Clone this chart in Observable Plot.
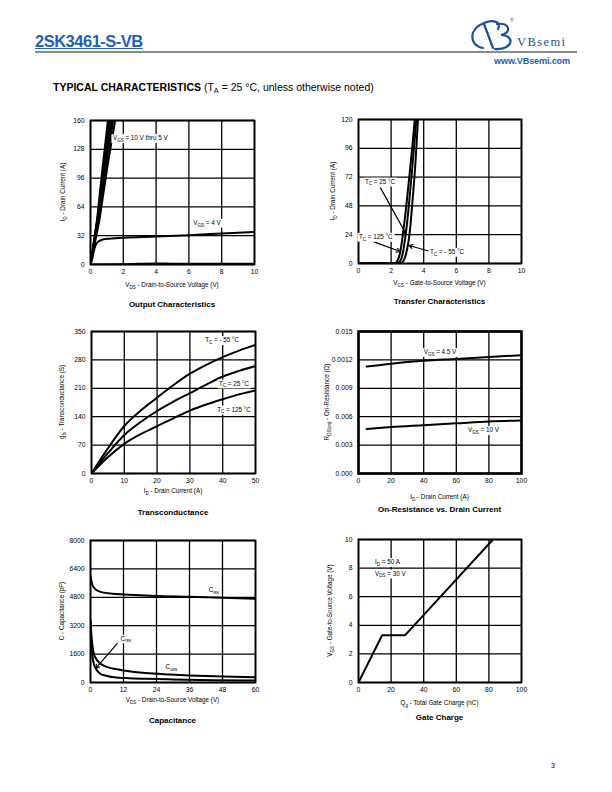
<!DOCTYPE html>
<html><head><meta charset="utf-8">
<script src="https://cdn.jsdelivr.net/npm/d3@7"></script>
<script src="https://cdn.jsdelivr.net/npm/@observablehq/plot@0.6"></script>
<style>
body{margin:0;background:#fff;}
#page{position:relative;width:612px;height:792px;overflow:hidden;font-family:"Liberation Sans",Arial,Helvetica,sans-serif;color:#000;}
.abs{position:absolute;white-space:nowrap;}
sub{font-size:0.7em;vertical-align:-0.25em;line-height:0;}
</style></head><body><div id="page">
<div class="abs" style="left:35px;top:32px;font-size:16.5px;font-weight:bold;color:#1f5fbf;letter-spacing:-0.5px;text-decoration:underline;text-decoration-thickness:1px;">2SK3461-S-VB</div>
<div class="abs" style="left:35px;top:51px;width:542px;height:2px;background:#8a8a8a;"></div>
<div class="abs" style="left:494px;top:56px;font-size:9.2px;font-weight:bold;color:#1f5fbf;letter-spacing:-0.2px;">www.VBsemi.com</div>
<svg class="abs" style="left:467px;top:15px;" width="112" height="37" viewBox="0 0 112 37">
  <g fill="none" stroke="#1c4f9c" stroke-width="2.2" stroke-linecap="round">
    <path d="M16,33 C2,31 1,14 17,8 C26,4 35,7 31,14"/>
    <path d="M17,9 L26,33"/>
    <path d="M30,9 C43,7 45,18 34,20 C48,20 47,35 28,34"/>
  </g>
  <text x="43" y="7" font-size="5" fill="#1c4f9c" font-family="Liberation Sans">®</text>
  <text x="50" y="31" font-size="12.5" fill="#1c4f9c" font-family="Liberation Serif" letter-spacing="1.4">VBsemi</text>
</svg>
<div class="abs" style="left:53px;top:81px;font-size:10.5px;"><b>TYPICAL CHARACTERISTICS</b> (T<sub>A</sub> = 25 °C, unless otherwise noted)</div>
<div class="abs" style="left:551px;top:762px;font-size:7px;">3</div>
</div>
<script>
// ---------- DATA ----------
// Output Characteristics (VDS, ID)
const outTicksX = [0, 2, 4, 6, 8, 10];
const outLabelsX = ["0", "2", "4", "6", "8", "10"];
const outTicksY = [0, 32, 64, 96, 128, 160];
const outLabelsY = ["0", "32", "64", "96", "128", "160"];
const outVgs10 = [[0, 0], [0.4, 50], [0.75, 110], [1.06, 160]];
const outVgs9 = [[0, 0], [0.42, 50], [0.8, 110], [1.13, 160]];
const outVgs8 = [[0, 0], [0.44, 50], [0.84, 110], [1.2, 160]];
const outVgs7 = [[0, 0], [0.47, 50], [0.89, 110], [1.28, 160]];
const outVgs6 = [[0, 0], [0.5, 50], [0.95, 110], [1.38, 160]];
const outVgs5 = [[0, 0], [0.55, 50], [1.04, 110], [1.5, 160]];
const outVgs4 = [[0, 0], [0.1, 6], [0.2, 15], [0.3, 21], [0.45, 25], [0.7, 27.5], [1, 28.5], [2, 29.8], [4, 31], [6, 32.5], [8, 34.5], [10, 36]];
const outVgs3 = [[0, 0], [2, 0.3], [4, 1.2], [5, 0.9], [10, 0.8]];

// Transfer Characteristics (VGS, ID)
const trTicksX = [0, 2, 4, 6, 8, 10];
const trLabelsX = ["0", "2", "4", "6", "8", "10"];
const trTicksY = [0, 24, 48, 72, 96, 120];
const trLabelsY = ["0", "24", "48", "72", "96", "120"];
const trTc125 = [[0, 0], [2.0, 0], [2.2, 0.3], [2.35, 1.5], [2.45, 4], [2.55, 9], [2.65, 17], [2.75, 27], [2.9, 44], [3.1, 70], [3.3, 97], [3.45, 120]];
const trTc25 = [[0, 0], [2.2, 0], [2.4, 0.3], [2.55, 2], [2.65, 5], [2.75, 11], [2.85, 20], [2.95, 30], [3.1, 50], [3.3, 80], [3.55, 120]];
const trTcM55 = [[0, 0], [2.4, 0], [2.6, 0.3], [2.75, 2], [2.85, 5], [2.95, 10], [3.05, 17], [3.15, 27], [3.3, 50], [3.5, 85], [3.65, 120]];

// Transconductance (ID, gfs)
const gfTicksX = [0, 10, 20, 30, 40, 50];
const gfLabelsX = ["0", "10", "20", "30", "40", "50"];
const gfTicksY = [0, 70, 140, 210, 280, 350];
const gfLabelsY = ["0", "70", "140", "210", "280", "350"];
const gfTcM55 = [[0, 0], [5, 62], [10, 117], [15, 155], [20, 187], [25, 218], [30, 246], [35, 268], [40, 287], [45, 303], [50, 317]];
const gfTc25 = [[0, 0], [5, 50], [10, 95], [15, 127], [20, 154], [25, 177], [30, 198], [35, 219], [40, 239], [45, 253], [50, 265]];
const gfTc125 = [[0, 0], [5, 40], [10, 73], [15, 97], [20, 117], [25, 136], [30, 155], [35, 170], [40, 183], [45, 195], [50, 205]];

// On-Resistance (ID, RDS(on))
const rTicksX = [0, 20, 40, 60, 80, 100];
const rLabelsX = ["0", "20", "40", "60", "80", "100"];
const rTicksY = [0, 0.003, 0.006, 0.009, 0.012, 0.015];
const rLabelsY = ["0.000", "0.003", "0.006", "0.009", "0.0012", "0.015"];
const rVgs45 = [[5, 0.0113], [20, 0.0116], [40, 0.0119], [60, 0.0121], [80, 0.0123], [100, 0.0125]];
const rVgs10 = [[5, 0.0047], [20, 0.0049], [40, 0.0051], [60, 0.0053], [80, 0.0055], [100, 0.0056]];

// Capacitance (VDS, C)
const cTicksX = [0, 12, 24, 36, 48, 60];
const cLabelsX = ["0", "12", "24", "36", "48", "60"];
const cTicksY = [0, 1600, 3200, 4800, 6400, 8000];
const cLabelsY = ["0", "1600", "3200", "4800", "6400", "8000"];
const cCiss = [[0.05, 6000], [0.5, 5600], [1, 5400], [2, 5220], [4, 5090], [8, 5000], [12, 4960], [18, 4910], [24, 4870], [36, 4830], [48, 4780], [60, 4720]];
const cCoss = [[0.05, 3500], [0.3, 2700], [0.7, 2100], [1.2, 1620], [2, 1350], [3, 1140], [5, 930], [8.5, 770], [12, 680], [20, 530], [29, 450], [36, 400], [48, 340], [60, 300]];
const cCrss = [[0.05, 3300], [0.36, 2180], [0.7, 1500], [1.2, 1050], [2, 760], [3.6, 490], [6, 370], [8.5, 300], [14, 240], [20, 210], [30, 170], [45, 130], [60, 110]];

// Gate Charge (Qg, VGS)
const qTicksX = [0, 20, 40, 60, 80, 100];
const qLabelsX = ["0", "20", "40", "60", "80", "100"];
const qTicksY = [0, 2, 4, 6, 8, 10];
const qLabelsY = ["0", "2", "4", "6", "8", "10"];
const qVgs = [[0, 0], [14.5, 3.3], [28.5, 3.3], [82.5, 10]];

// ---------- DRAWING ----------
const FONT = '"Liberation Sans", Arial, Helvetica, sans-serif';
const page = document.getElementById("page");

function rich(svg, x, y, markup, o = {}) {
  const size = o.size || 6;
  const g = d3.select(svg).append("g");
  const t = g.append("text")
    .attr("x", x).attr("y", y + size * 0.35)
    .attr("font-family", FONT).attr("font-size", size)
    .attr("font-weight", o.weight || "normal")
    .attr("text-anchor", o.anchor || "start")
    .attr("fill", "#000");
  const parts = markup.split(/(_\{[^}]*\})/).filter(s => s.length);
  let shifted = false;
  for (const p of parts) {
    const m = p.match(/^_\{([^}]*)\}$/);
    if (m) {
      t.append("tspan").attr("font-size", size * 0.72).attr("dy", size * 0.3).text(m[1]);
      shifted = true;
    } else {
      const ts = t.append("tspan").text(p);
      if (shifted) { ts.attr("dy", -size * 0.3); shifted = false; }
    }
  }
  if (o.rotate) g.attr("transform", `rotate(-90 ${x} ${y})`);
  if (o.bg) {
    const b = t.node().getBBox();
    g.insert("rect", "text").attr("x", b.x - 1.5).attr("y", b.y).attr("width", b.width + 3).attr("height", b.height).attr("fill", "#fff");
  }
  return g;
}

const toRows = (arr, name) => arr.map(([x, y]) => ({x, y, s: name}));

function chart(o) {
  const W = o.fx1 - o.left + 25;
  const H = o.bottom - o.top;
  const xMap = new Map(o.xTicks.map((d, i) => [d, o.xLabels[i]]));
  const yMap = new Map(o.yTicks.map((d, i) => [d, o.yLabels[i]]));
  const svg = Plot.plot({
    width: W, height: H,
    marginLeft: o.fx0 - o.left, marginRight: W - (o.fx1 - o.left),
    marginTop: o.fy0 - o.top, marginBottom: o.bottom - o.fy1,
    x: {domain: o.xDomain}, y: {domain: o.yDomain},
    style: {fontFamily: FONT, fontSize: "6.8px", color: "#000", background: "transparent", overflow: "visible"},
    marks: [
      Plot.gridX(o.xTicks, {stroke: "#000", strokeOpacity: 1, strokeWidth: 1.3}),
      Plot.gridY(o.yTicks, {stroke: "#000", strokeOpacity: 1, strokeWidth: 1.3}),
      ...o.marks,
      Plot.frame({stroke: "#000", strokeWidth: o.frameW || 1.8}),
      Plot.axisX(o.xTicks, {tickSize: 0, tickPadding: 5, label: null, tickFormat: d => xMap.get(d)}),
      Plot.axisY(o.yTicks, {tickSize: 0, tickPadding: 6, label: null, tickFormat: d => yMap.get(d)})
    ]
  });
  Object.assign(svg.style, {position: "absolute", left: o.left + "px", top: o.top + "px"});
  page.appendChild(svg);
  const cx = (o.fx0 + o.fx1) / 2 - o.left;
  rich(svg, cx, o.xLabelY - o.top, o.xLabel, {anchor: "middle", size: 6.3});
  rich(svg, cx, o.titleY - o.top, o.title, {anchor: "middle", size: 8, weight: "bold"});
  rich(svg, o.yLabelX - o.left, (o.fy0 + o.fy1) / 2 - o.top, o.yLabel, {anchor: "middle", size: 6.3, rotate: true});
  const X = svg.scale("x"), Y = svg.scale("y");
  for (const a of (o.notes || [])) rich(svg, X.apply(a.x), Y.apply(a.y), a.text, {anchor: a.anchor || "start", size: 6.3, bg: true});
  return svg;
}

const lineOpts = {x: "x", y: "y", z: "s", stroke: "#000", strokeWidth: 2, curve: "monotone-x", clip: true};

// 1. Output Characteristics
chart({
  left: 40, top: 110, bottom: 312, fx0: 90, fx1: 254, fy0: 120, fy1: 264,
  xDomain: [0, 10], yDomain: [0, 160],
  xTicks: outTicksX, xLabels: outLabelsX, yTicks: outTicksY, yLabels: outLabelsY,
  xLabel: "V_{DS} - Drain-to-Source Voltage (V)", yLabel: "I_{D} - Drain Current (A)",
  title: "Output Characteristics", xLabelY: 285, titleY: 304, yLabelX: 63,
  marks: [
    Plot.line([...toRows(outVgs10, "10"), ...toRows(outVgs9, "9"), ...toRows(outVgs8, "8"), ...toRows(outVgs7, "7"), ...toRows(outVgs6, "6"), ...toRows(outVgs5, "5")], {...lineOpts, curve: "linear"}),
    Plot.line([...toRows(outVgs4, "4"), ...toRows(outVgs3, "3")], lineOpts)
  ],
  notes: [
    {x: 1.4, y: 140, text: "V_{GS} = 10 V thru 5 V"},
    {x: 6.3, y: 46, text: "V_{GS} = 4 V"}
  ]
});

// 2. Transfer Characteristics
chart({
  left: 310, top: 108, bottom: 310, fx0: 358, fx1: 521, fy0: 119, fy1: 263,
  xDomain: [0, 10], yDomain: [0, 120],
  xTicks: trTicksX, xLabels: trLabelsX, yTicks: trTicksY, yLabels: trLabelsY,
  xLabel: "V_{GS} - Gate-to-Source Voltage (V)", yLabel: "I_{D} - Drain Current (A)",
  title: "Transfer Characteristics", xLabelY: 283, titleY: 301, yLabelX: 333,
  marks: [
    Plot.line([...toRows(trTc125, "125"), ...toRows(trTc25, "25"), ...toRows(trTcM55, "-55")], lineOpts),
    Plot.arrow([{x1: 1.35, y1: 63, x2: 2.9, y2: 25}, {x1: 0.95, y1: 18, x2: 2.55, y2: 10}, {x1: 4.4, y1: 10, x2: 3.1, y2: 15}],
      {x1: "x1", y1: "y1", x2: "x2", y2: "y2", stroke: "#000", strokeWidth: 1.2, headLength: 5})
  ],
  notes: [
    {x: 0.43, y: 68, text: "T_{C} = 25 °C"},
    {x: 0.06, y: 22, text: "T_{C} = 125 °C"},
    {x: 4.42, y: 9.5, text: "T_{C} = - 55 °C"}
  ]
});

// 3. Transconductance
chart({
  left: 40, top: 320, bottom: 522, fx0: 91, fx1: 255, fy0: 331, fy1: 473,
  xDomain: [0, 50], yDomain: [0, 350],
  xTicks: gfTicksX, xLabels: gfLabelsX, yTicks: gfTicksY, yLabels: gfLabelsY,
  xLabel: "I_{D} - Drain Current (A)", yLabel: "g_{fs} - Transconductance (S)",
  title: "Transconductance", xLabelY: 491, titleY: 512, yLabelX: 62,
  marks: [
    Plot.line([...toRows(gfTcM55, "-55"), ...toRows(gfTc25, "25"), ...toRows(gfTc125, "125")], lineOpts)
  ],
  notes: [
    {x: 40, y: 328, text: "T_{C} = - 55 °C", anchor: "middle"},
    {x: 43.6, y: 221, text: "T_{C} = 25 °C", anchor: "middle"},
    {x: 43.6, y: 157, text: "T_{C} = 125 °C", anchor: "middle"}
  ]
});

// 4. On-Resistance vs. Drain Current
chart({
  left: 310, top: 320, bottom: 522, fx0: 358, fx1: 521, fy0: 331, fy1: 473,
  xDomain: [0, 100], yDomain: [0, 0.015], frameW: 2.6,
  xTicks: rTicksX, xLabels: rLabelsX, yTicks: rTicksY, yLabels: rLabelsY,
  xLabel: "I_{D} - Drain Current (A)", yLabel: "R_{DS(on)} - On-Resistance (Ω)",
  title: "On-Resistance vs. Drain Current", xLabelY: 497, titleY: 509, yLabelX: 327,
  marks: [
    Plot.line([...toRows(rVgs45, "4.5"), ...toRows(rVgs10, "10")], lineOpts)
  ],
  notes: [
    {x: 50.3, y: 0.0128, text: "V_{GS} = 4.5 V", anchor: "middle"},
    {x: 77, y: 0.00455, text: "V_{GS} = 10 V", anchor: "middle"}
  ]
});

// 5. Capacitance
chart({
  left: 40, top: 528, bottom: 730, fx0: 90, fx1: 255, fy0: 540, fy1: 682,
  xDomain: [0, 60], yDomain: [0, 8000],
  xTicks: cTicksX, xLabels: cLabelsX, yTicks: cTicksY, yLabels: cLabelsY,
  xLabel: "V_{DS} - Drain-to-Source Voltage (V)", yLabel: "C - Capacitance (pF)",
  title: "Capacitance", xLabelY: 700, titleY: 720, yLabelX: 62,
  marks: [
    Plot.line([...toRows(cCiss, "iss"), ...toRows(cCoss, "oss"), ...toRows(cCrss, "rss")], lineOpts),
    Plot.arrow([{x1: 9.7, y1: 2190, x2: 1.9, y2: 800}],
      {x1: "x1", y1: "y1", x2: "x2", y2: "y2", stroke: "#000", strokeWidth: 1.2, headLength: 5})
  ],
  notes: [
    {x: 45, y: 5180, text: "C_{iss}", anchor: "middle"},
    {x: 29.6, y: 860, text: "C_{oss}", anchor: "middle"},
    {x: 13, y: 2460, text: "C_{rss}", anchor: "middle"}
  ]
});

// 6. Gate Charge
chart({
  left: 310, top: 528, bottom: 730, fx0: 358, fx1: 521, fy0: 539, fy1: 682,
  xDomain: [0, 100], yDomain: [0, 10],
  xTicks: qTicksX, xLabels: qLabelsX, yTicks: qTicksY, yLabels: qLabelsY,
  xLabel: "Q_{g} - Total Gate Charge (nC)", yLabel: "V_{GS} - Gate-to-Source Voltage (V)",
  title: "Gate Charge", xLabelY: 703, titleY: 717, yLabelX: 330,
  marks: [
    Plot.line(toRows(qVgs, "q"), {...lineOpts, curve: "linear"})
  ],
  notes: [
    {x: 10.5, y: 8.4, text: "I_{D} = 50 A"},
    {x: 10.5, y: 7.6, text: "V_{DS} = 30 V"}
  ]
});
</script>
</body></html>
